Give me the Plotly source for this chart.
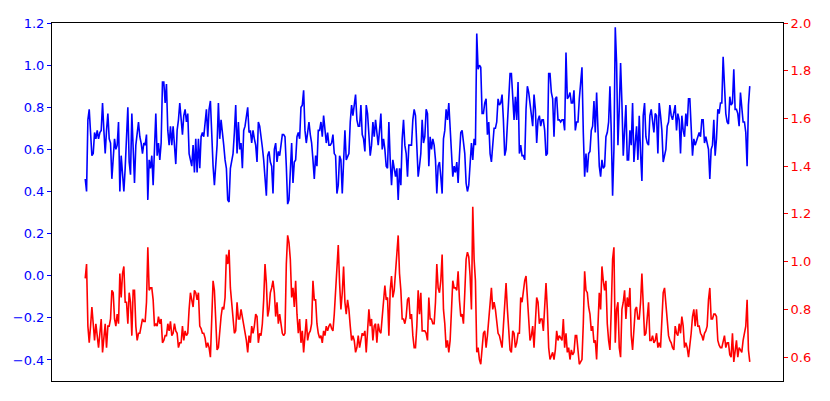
import numpy as np
import plotly.graph_objects as go

# Blue series (left axis) left to right
blue_values = [
    0.46, 0.40, 0.74, 0.79, 0.68, 0.57, 0.58, 0.68, 0.65, 0.69, 0.65, 0.68, 0.69, 0.82, 0.69, 0.58,
    0.69, 0.77, 0.65, 0.63, 0.46, 0.58, 0.65, 0.60, 0.62, 0.73, 0.40, 0.57, 0.48, 0.40, 0.51, 0.65,
    0.80, 0.54, 0.48, 0.77, 0.55, 0.44, 0.62, 0.69, 0.73, 0.66, 0.63, 0.58, 0.63, 0.62, 0.67, 0.36,
    0.55, 0.51, 0.57, 0.43, 0.66, 0.77, 0.57, 0.63, 0.55, 0.63, 0.92, 0.92, 0.82, 0.91, 0.69, 0.62,
    0.71, 0.62, 0.71, 0.62, 0.53, 0.69, 0.74, 0.82, 0.74, 0.67, 0.76, 0.79, 0.73, 0.77, 0.58, 0.55,
    0.52, 0.62, 0.49, 0.65, 0.49, 0.65, 0.51, 0.66, 0.68, 0.66, 0.74, 0.79, 0.66, 0.79, 0.83, 0.66,
    0.52, 0.43, 0.52, 0.62, 0.82, 0.65, 0.74, 0.69, 0.62, 0.55, 0.51, 0.36, 0.35, 0.51, 0.55, 0.58,
    0.68, 0.81, 0.58, 0.73, 0.60, 0.63, 0.51, 0.69, 0.71,
    # second quarter
    0.76, 0.80, 0.68, 0.69, 0.63, 0.69, 0.65, 0.62, 0.54, 0.73, 0.71, 0.67, 0.61, 0.55, 0.46, 0.38,
    0.57, 0.59, 0.54, 0.52, 0.39, 0.60, 0.63, 0.54, 0.59, 0.57, 0.62, 0.67, 0.67, 0.66, 0.52, 0.34,
    0.36, 0.47, 0.63, 0.44, 0.54, 0.55, 0.66, 0.68, 0.65, 0.80, 0.81, 0.88, 0.69, 0.63, 0.68, 0.73,
    0.67, 0.63, 0.55, 0.46, 0.57, 0.52, 0.69, 0.69, 0.73, 0.66, 0.76, 0.69, 0.63, 0.68, 0.62, 0.62,
    0.63, 0.67, 0.58, 0.57, 0.39, 0.43, 0.57, 0.55, 0.39, 0.54, 0.69, 0.55, 0.57, 0.58, 0.73, 0.81,
    0.76, 0.80, 0.86, 0.74, 0.71, 0.71, 0.81, 0.67, 0.65, 0.59, 0.81, 0.77, 0.66, 0.57, 0.62, 0.73,
    0.66, 0.74, 0.68, 0.62, 0.69, 0.77, 0.60, 0.65, 0.60, 0.52, 0.51, 0.73, 0.55, 0.43, 0.55, 0.51,
    0.47, 0.51, 0.36, 0.51, 0.43, 0.65, 0.74, 0.62, 0.58, 0.47, 0.62,
    # third quarter
    0.62, 0.62, 0.74, 0.79, 0.76, 0.62, 0.47, 0.52, 0.58, 0.74, 0.63, 0.66, 0.79, 0.77, 0.52, 0.66,
    0.60, 0.65, 0.62, 0.55, 0.39, 0.52, 0.54, 0.47, 0.39, 0.65, 0.69, 0.79, 0.74, 0.82, 0.71, 0.55,
    0.47, 0.52, 0.49, 0.54, 0.44, 0.57, 0.68, 0.69, 0.63, 0.58, 0.44, 0.40, 0.43, 0.52, 0.63, 0.55,
    0.65, 0.62, 1.15, 0.98, 1.00, 0.99, 0.77, 0.77, 0.82, 0.84, 0.67, 0.73, 0.58, 0.54, 0.63, 0.70,
    0.70, 0.73, 0.84, 0.81, 0.82, 0.86, 0.74, 0.57, 0.60, 0.73, 0.79, 0.96, 0.96, 0.84, 0.74, 0.85,
    0.74, 0.92, 0.58, 0.62, 0.57, 0.57, 0.55, 0.79, 0.90, 0.87, 0.82, 0.77, 0.71, 0.86, 0.79, 0.63,
    0.74, 0.76, 0.71, 0.74, 0.74, 0.69, 0.57, 0.58, 0.96, 0.96, 0.87, 0.84, 0.66, 0.84, 0.85, 0.74,
    0.74, 0.73, 0.74, 0.74, 0.69, 1.06, 0.84, 0.85, 0.87, 0.82, 0.82, 0.88, 0.69, 0.73, 0.73, 0.84,
    # fourth quarter
    0.92, 0.99, 0.68, 0.47, 0.58, 0.49, 0.58, 0.59, 0.69, 0.71, 0.83, 0.68, 0.87, 0.69, 0.52, 0.47,
    0.55, 0.51, 0.52, 0.66, 0.68, 0.73, 0.90, 0.68, 0.38, 0.60, 1.18, 1.01, 0.62, 0.79, 1.01, 0.82,
    0.57, 0.69, 0.81, 0.55, 0.55, 0.69, 0.62, 0.82, 0.54, 0.63, 0.71, 0.55, 0.76, 0.58, 0.45, 0.76,
    0.82, 0.66, 0.63, 0.62, 0.76, 0.79, 0.74, 0.68, 0.77, 0.76, 0.58, 0.82, 0.76, 0.69, 0.54, 0.58,
    0.60, 0.71, 0.73, 0.81, 0.76, 0.74, 0.77, 0.81, 0.69, 0.77, 0.74, 0.58, 0.76, 0.69, 0.66, 0.77,
    0.71, 0.84, 0.84, 0.71, 0.57, 0.65, 0.62, 0.64, 0.66, 0.68, 0.66, 0.74, 0.74, 0.63, 0.66, 0.62,
    0.60, 0.46, 0.60, 0.62, 0.74, 0.57, 0.65, 0.79, 0.77, 0.82, 0.82, 1.04, 0.90, 0.77, 0.73, 0.72,
    0.85, 0.81, 0.82, 0.98, 0.79, 0.79, 0.77, 0.71, 0.87, 0.81, 0.73, 0.73, 0.68, 0.52, 0.81, 0.90,
]

# Red series (right axis) left to right
red_values = [
    0.93, 0.99, 0.73, 0.66, 0.73, 0.81, 0.74, 0.67, 0.74, 0.69, 0.64, 0.70, 0.76, 0.62, 0.70, 0.74,
    0.64, 0.73, 0.73, 0.76, 0.88, 0.87, 0.76, 0.73, 0.78, 0.74, 0.95, 0.85, 0.95, 0.98, 0.83, 0.83,
    0.74, 0.87, 0.83, 0.69, 0.88, 0.88, 0.73, 0.67, 0.70, 0.70, 0.73, 0.76, 0.75, 0.75, 0.83, 1.06,
    0.88, 0.89, 0.89, 0.84, 0.73, 0.74, 0.73, 0.77, 0.74, 0.76, 0.66, 0.67, 0.69, 0.69, 0.74, 0.71,
    0.75, 0.69, 0.70, 0.74, 0.71, 0.70, 0.64, 0.66, 0.66, 0.73, 0.67, 0.71, 0.69, 0.70, 0.80, 0.87,
    0.84, 0.81, 0.88, 0.87, 0.84, 0.87, 0.73, 0.72, 0.70, 0.70, 0.68, 0.64, 0.66, 0.64, 0.60, 0.73,
    0.92, 0.88, 0.74, 0.63, 0.64, 0.71, 0.77, 0.81, 0.80, 0.85, 1.03, 0.99, 1.05, 0.89, 0.83, 0.78,
    0.70, 0.71, 0.83, 0.76, 0.76, 0.80, 0.77, 0.73, 0.70,
    # second quarter
    0.67, 0.62, 0.69, 0.66, 0.73, 0.70, 0.73, 0.78, 0.77, 0.66, 0.70, 0.69, 0.74, 0.84, 0.99, 0.91,
    0.77, 0.80, 0.87, 0.89, 0.92, 0.87, 0.77, 0.83, 0.74, 0.78, 0.73, 0.70, 0.69, 0.70, 0.99, 1.11,
    1.08, 1.01, 0.85, 0.89, 0.81, 0.92, 0.78, 0.70, 0.76, 0.66, 0.71, 0.62, 0.69, 0.76, 0.67, 0.70,
    0.71, 0.74, 0.92, 0.84, 0.84, 0.74, 0.70, 0.68, 0.69, 0.66, 0.71, 0.69, 0.73, 0.71, 0.73, 0.74,
    0.72, 0.71, 0.78, 0.87, 0.99, 1.07, 0.91, 0.80, 0.87, 0.98, 0.83, 0.78, 0.84, 0.80, 0.73, 0.67,
    0.69, 0.67, 0.62, 0.64, 0.69, 0.64, 0.67, 0.70, 0.69, 0.71, 0.62, 0.70, 0.80, 0.73, 0.76, 0.67,
    0.73, 0.74, 0.66, 0.74, 0.71, 0.70, 0.76, 0.85, 0.90, 0.84, 0.85, 0.69, 0.88, 0.94, 0.85, 0.88,
    0.96, 1.05, 1.11, 0.95, 0.88, 0.76, 0.76, 0.74, 0.77, 0.84, 0.85,
    # third quarter
    0.76, 0.78, 0.69, 0.64, 0.64, 0.73, 0.88, 0.78, 0.87, 0.71, 0.71, 0.71, 0.70, 0.67, 0.85, 0.76,
    0.76, 0.74, 0.74, 0.83, 0.99, 0.89, 0.87, 0.92, 1.03, 0.80, 0.74, 0.64, 0.67, 0.62, 0.67, 0.80,
    0.92, 0.89, 0.89, 0.88, 0.96, 0.84, 0.77, 0.78, 0.74, 0.87, 1.01, 1.04, 1.02, 0.94, 0.80, 1.23,
    1.01, 0.92, 0.62, 0.64, 0.59, 0.57, 0.63, 0.70, 0.71, 0.64, 0.69, 0.76, 0.85, 0.89, 0.80, 0.83,
    0.80, 0.76, 0.70, 0.69, 0.67, 0.64, 0.73, 0.85, 0.91, 0.80, 0.73, 0.63, 0.62, 0.71, 0.70, 0.64,
    0.66, 0.70, 0.70, 0.85, 0.83, 0.88, 0.92, 0.94, 0.83, 0.76, 0.67, 0.69, 0.73, 0.64, 0.73, 0.85,
    0.83, 0.74, 0.76, 0.76, 0.71, 0.83, 0.91, 0.80, 0.64, 0.59, 0.61, 0.62, 0.59, 0.63, 0.71, 0.67,
    0.69, 0.68, 0.67, 0.76, 0.64, 0.70, 0.62, 0.64, 0.59, 0.63, 0.61, 0.62, 0.69, 0.69, 0.62, 0.57,
    # fourth quarter
    0.58, 0.59, 0.74, 0.96, 0.88, 0.87, 0.81, 0.78, 0.71, 0.73, 0.66, 0.67, 0.59, 0.76, 0.87, 0.80,
    0.98, 0.92, 0.88, 0.92, 0.74, 0.67, 0.63, 0.80, 1.01, 1.06, 0.66, 0.80, 0.83, 0.64, 0.60, 0.80,
    0.83, 0.88, 0.76, 0.85, 0.81, 0.89, 0.69, 0.63, 0.73, 0.80, 0.81, 0.76, 0.76, 0.83, 0.95, 0.84,
    0.69, 0.70, 0.79, 0.83, 0.67, 0.67, 0.69, 0.66, 0.67, 0.70, 0.64, 0.66, 0.64, 0.76, 0.87, 0.89,
    0.83, 0.76, 0.69, 0.67, 0.66, 0.64, 0.63, 0.73, 0.70, 0.69, 0.74, 0.70, 0.77, 0.73, 0.64, 0.66,
    0.64, 0.60, 0.64, 0.70, 0.77, 0.80, 0.73, 0.80, 0.73, 0.73, 0.70, 0.69, 0.67, 0.70, 0.71, 0.73,
    0.84, 0.89, 0.76, 0.76, 0.78, 0.78, 0.77, 0.67, 0.65, 0.64, 0.64, 0.67, 0.69, 0.64, 0.66, 0.66,
    0.61, 0.60, 0.70, 0.58, 0.62, 0.67, 0.60, 0.64, 0.63, 0.62, 0.67, 0.70, 0.73, 0.84, 0.63, 0.58,
]

left_ticks = [-0.4, -0.2, 0.0, 0.2, 0.4, 0.6, 0.8, 1.0, 1.2]
right_ticks = [0.6, 0.8, 1.0, 1.2, 1.4, 1.6, 1.8, 2.0]

x_blue = np.linspace(0, 1, len(blue_values))
x_red = np.linspace(0, 1, len(red_values))

fig = go.Figure()
fig.add_trace(go.Scatter(x=x_blue, y=blue_values, mode="lines",
                         line=dict(color="blue", width=1.6), yaxis="y", showlegend=False))
fig.add_trace(go.Scatter(x=x_red, y=red_values, mode="lines",
                         line=dict(color="red", width=1.6), yaxis="y2", showlegend=False))

font = dict(family="DejaVu Sans", size=13)
# The page body adds an 8px offset, so the figure is a little smaller than the window
fig.update_layout(
    width=822, height=393,
    margin=dict(l=44, r=47, t=15, b=20),
    paper_bgcolor="white", plot_bgcolor="white",
    font=font,
    xaxis=dict(range=[-0.05, 1.05], showticklabels=False, ticks="", showgrid=False,
               zeroline=False, showline=True, mirror=True, linecolor="black", linewidth=1,
               automargin=False),
    yaxis=dict(range=[-0.5, 1.2], tickvals=left_ticks, tickformat=".1f", ticks="outside",
               ticklen=4, tickcolor="blue", tickfont=dict(color="blue", family="DejaVu Sans", size=13),
               showgrid=False, zeroline=False, showline=True, linecolor="black", linewidth=1,
               automargin=False),
    yaxis2=dict(range=[0.5, 2.0], tickvals=right_ticks, tickformat=".1f", ticks="outside",
                ticklen=4, tickcolor="red", tickfont=dict(color="red", family="DejaVu Sans", size=13),
                overlaying="y", side="right", showgrid=False, zeroline=False,
                showline=True, linecolor="black", linewidth=1, automargin=False),
)

fig.write_html("out.html")
